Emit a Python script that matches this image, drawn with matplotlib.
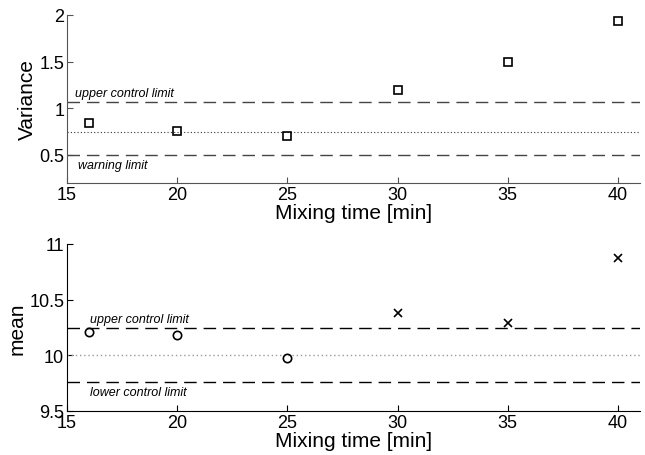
import numpy as np
import matplotlib.pyplot as plt

plt.rcParams['font.family'] = ['Liberation Sans', 'DejaVu Sans']

mixing_time = [16, 20, 25, 30, 35, 40]
variance = [0.843, 0.76, 0.70, 1.196, 1.50, 1.94]
mean_vals = [10.213, 10.184, 9.974, 10.379, 10.289, 10.874]

var_ucl = 1.064
var_center = 0.743
var_warn = 0.5
mean_ucl = 10.244
mean_center = 10.0
mean_lcl = 9.758

fig = plt.figure(figsize=(6.45, 4.56), dpi=100)
ax1 = fig.add_axes([67 / 645, 1 - 184 / 456, 573 / 645, 168 / 456])
ax2 = fig.add_axes([67 / 645, 1 - 412 / 456, 573 / 645, 167 / 456])

dash = (0, (9, 5))

# variance panel
ax1.axhline(var_ucl, color='#444444', lw=1.0, ls=dash)
ax1.axhline(var_center, color='#333333', lw=0.8, ls=(0, (1, 2)))
ax1.axhline(var_warn, color='#444444', lw=1.0, ls=dash)
ax1.plot(mixing_time, variance, ls='none', marker='s', ms=6, mfc='none',
         mec='black', mew=1.2)
ax1.text(15.35, var_ucl + 0.04, 'upper control limit', style='italic', fontsize=9,
         va='bottom')
ax1.text(15.5, var_warn - 0.04, 'warning limit', style='italic', fontsize=9,
         va='top')
ax1.set_xlim(15, 41)
ax1.set_ylim(0.2, 2)
ax1.set_yticks([0.5, 1, 1.5, 2])
ax1.set_yticklabels(['0.5', '1', '1.5', '2'])
ax1.set_xticks([15, 20, 25, 30, 35, 40])
ax1.set_ylabel('Variance', fontsize=15, labelpad=2)
ax1.set_xlabel('Mixing time [min]', fontsize=15, labelpad=0)

# mean panel
ax2.axhline(mean_ucl, color='black', lw=1.0, ls=dash)
ax2.axhline(mean_center, color='#999999', lw=1.0, ls=(0, (1, 2)))
ax2.axhline(mean_lcl, color='black', lw=1.0, ls=dash)
ax2.plot(mixing_time[:3], mean_vals[:3], ls='none', marker='o', ms=6, mfc='none',
         mec='black', mew=1.2)
ax2.plot(mixing_time[3:], mean_vals[3:], ls='none', marker='x', ms=6,
         color='black', mew=1.2)
ax2.text(16.05, mean_ucl + 0.03, 'upper control limit', style='italic', fontsize=9,
         va='bottom')
ax2.text(16.05, mean_lcl - 0.035, 'lower control limit', style='italic', fontsize=9,
         va='top')
ax2.set_xlim(15, 41)
ax2.set_ylim(9.5, 11)
ax2.set_yticks([9.5, 10, 10.5, 11])
ax2.set_yticklabels(['9.5', '10', '10.5', '11'])
ax2.set_xticks([15, 20, 25, 30, 35, 40])
ax2.set_ylabel('mean', fontsize=15, labelpad=2)
ax2.set_xlabel('Mixing time [min]', fontsize=15, labelpad=0)

for ax, spcol in ((ax1, '#555555'), (ax2, 'black')):
    ax.spines['top'].set_visible(False)
    ax.spines['right'].set_visible(False)
    ax.spines['left'].set_color(spcol)
    ax.spines['bottom'].set_color(spcol)
    ax.tick_params(direction='in', length=4, labelsize=13, color=spcol, pad=2)

fig.savefig('out.png', dpi=100)
